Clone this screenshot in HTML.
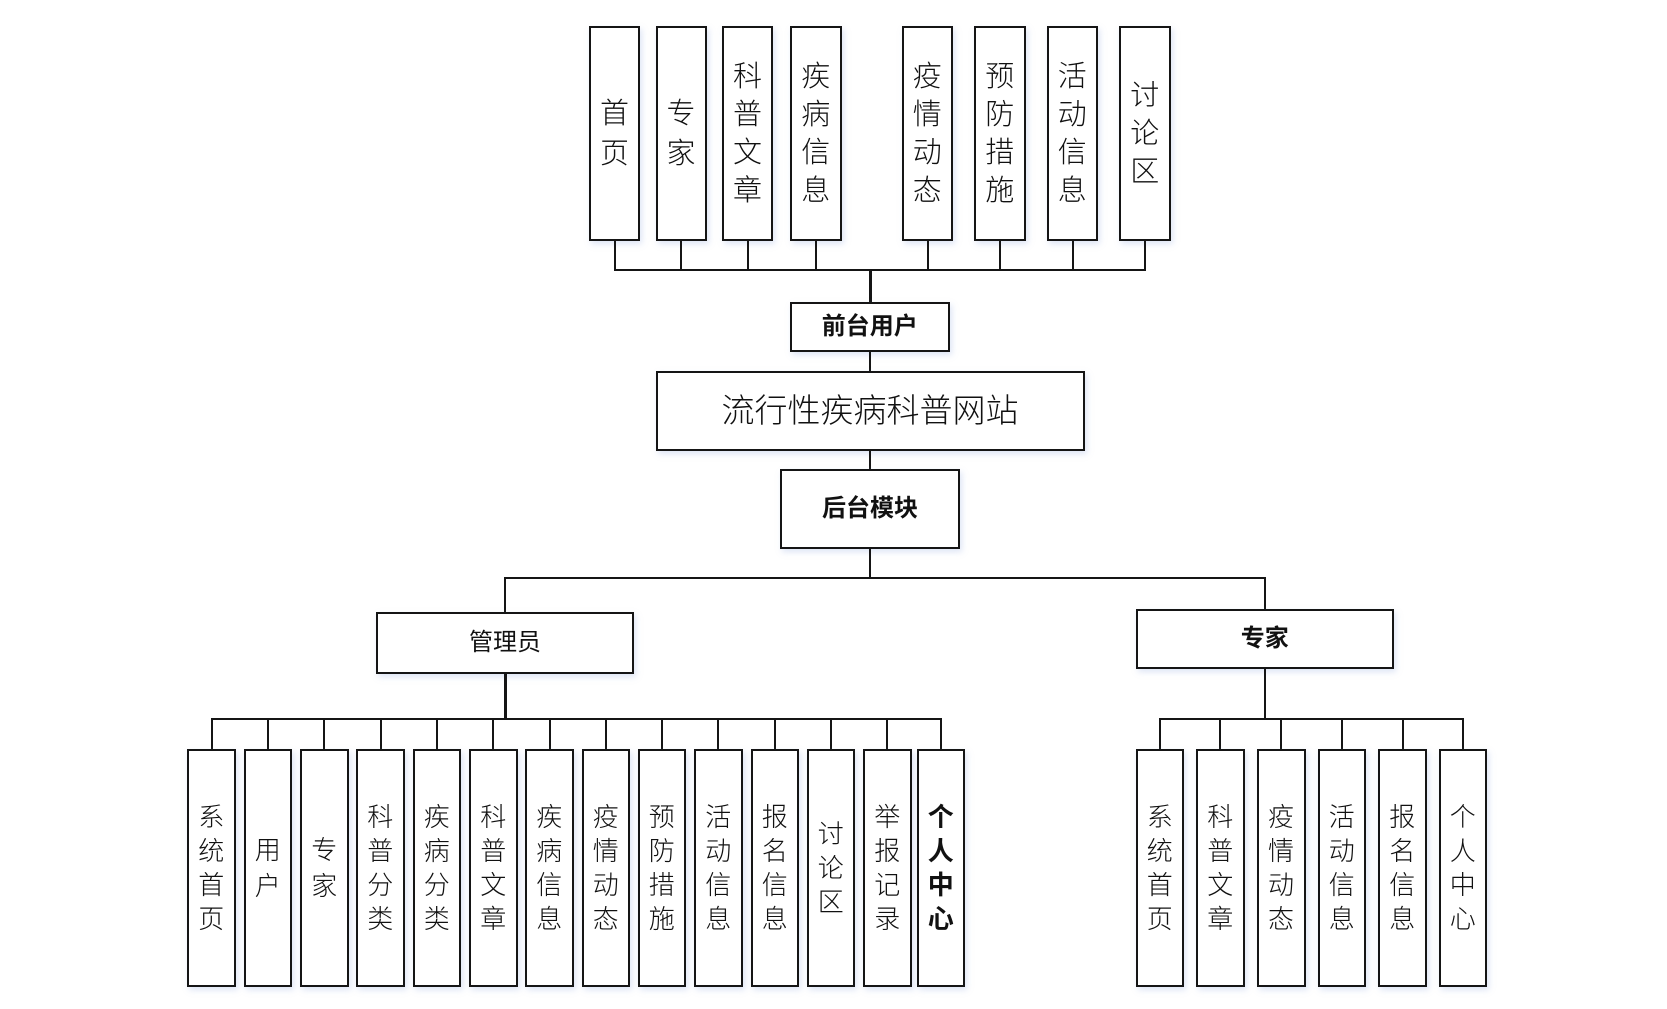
<!DOCTYPE html>
<html><head><meta charset="utf-8">
<style>
html,body{margin:0;padding:0;background:#fff;}
body{width:1667px;height:1009px;position:relative;overflow:hidden;font-family:"Liberation Sans","Noto Sans CJK SC",sans-serif;color:#111;}
.b{position:absolute;box-sizing:border-box;border:2px solid #151515;background:#fff;display:flex;align-items:center;justify-content:center;text-align:center;box-shadow:2px 3px 6px rgba(160,180,225,0.35);}
.l{position:absolute;background:#151515;}
.t{font-size:29px;font-weight:300;line-height:38px;}
.t2{font-size:29px;font-weight:300;line-height:40px;}
.s{font-size:26px;font-weight:300;line-height:34px;}
.s2{font-size:26px;font-weight:300;line-height:36.5px;}
.bold{font-weight:700;}
</style></head><body>

<!-- top boxes -->
<div class="b" style="left:589px;top:26px;width:51px;height:215px;"><div class="t2">首<br>页</div></div>
<div class="b" style="left:655.5px;top:26px;width:51px;height:215px;"><div class="t2">专<br>家</div></div>
<div class="b" style="left:722px;top:26px;width:51px;height:215px;"><div class="t">科<br>普<br>文<br>章</div></div>
<div class="b" style="left:790px;top:26px;width:51.5px;height:215px;"><div class="t">疾<br>病<br>信<br>息</div></div>
<div class="b" style="left:901.5px;top:26px;width:51.5px;height:215px;"><div class="t">疫<br>情<br>动<br>态</div></div>
<div class="b" style="left:974px;top:26px;width:51.5px;height:215px;"><div class="t">预<br>防<br>措<br>施</div></div>
<div class="b" style="left:1046.5px;top:26px;width:51.5px;height:215px;"><div class="t">活<br>动<br>信<br>息</div></div>
<div class="b" style="left:1119px;top:26px;width:51.5px;height:215px;"><div class="t">讨<br>论<br>区</div></div>

<!-- top stems -->
<div class="l" style="left:613.5px;top:241px;width:2px;height:30px;"></div>
<div class="l" style="left:680px;top:241px;width:2px;height:30px;"></div>
<div class="l" style="left:746.5px;top:241px;width:2px;height:30px;"></div>
<div class="l" style="left:815px;top:241px;width:2px;height:30px;"></div>
<div class="l" style="left:926.5px;top:241px;width:2px;height:30px;"></div>
<div class="l" style="left:999px;top:241px;width:2px;height:30px;"></div>
<div class="l" style="left:1071.5px;top:241px;width:2px;height:30px;"></div>
<div class="l" style="left:1144px;top:241px;width:2px;height:30px;"></div>
<!-- top bus -->
<div class="l" style="left:613.5px;top:269px;width:532.5px;height:2px;"></div>
<!-- trunk -->
<div class="l" style="left:869px;top:269px;width:2.5px;height:33px;"></div>

<!-- 前台用户 -->
<div class="b" style="left:790px;top:301.5px;width:159.5px;height:50.5px;"><div style="font-size:24px;font-weight:700;line-height:30px;">前台用户</div></div>
<div class="l" style="left:869px;top:352px;width:2px;height:19px;"></div>

<!-- main -->
<div class="b" style="left:655.5px;top:370.5px;width:429px;height:80px;"><div style="font-size:33px;font-weight:300;line-height:40px;">流行性疾病科普网站</div></div>
<div class="l" style="left:869px;top:450px;width:2px;height:20px;"></div>

<!-- 后台模块 -->
<div class="b" style="left:780px;top:469px;width:180px;height:80px;"><div style="font-size:24px;font-weight:700;line-height:30px;">后台模块</div></div>
<div class="l" style="left:869px;top:548.5px;width:2px;height:30px;"></div>

<!-- mid bus -->
<div class="l" style="left:504px;top:576.5px;width:761.5px;height:2px;"></div>
<div class="l" style="left:504px;top:576.5px;width:2px;height:36px;"></div>
<div class="l" style="left:1263.5px;top:576.5px;width:2px;height:32px;"></div>

<!-- 管理员 -->
<div class="b" style="left:376px;top:612px;width:258px;height:61.5px;"><div style="font-size:24px;font-weight:400;line-height:30px;">管理员</div></div>
<div class="l" style="left:504px;top:673px;width:3px;height:47px;"></div>

<!-- 专家 -->
<div class="b" style="left:1135.5px;top:608.5px;width:258.5px;height:60.5px;"><div style="font-size:24px;font-weight:700;line-height:30px;">专家</div></div>
<div class="l" style="left:1263.5px;top:668.5px;width:2px;height:51px;"></div>

<!-- left bus -->
<div class="l" style="left:210.5px;top:718px;width:731px;height:2px;"></div>
<!-- left stems -->
<div class="l" style="left:210.5px;top:718px;width:2px;height:31px;"></div>
<div class="l" style="left:267px;top:718px;width:2px;height:31px;"></div>
<div class="l" style="left:323px;top:718px;width:2px;height:31px;"></div>
<div class="l" style="left:379.5px;top:718px;width:2px;height:31px;"></div>
<div class="l" style="left:436px;top:718px;width:2px;height:31px;"></div>
<div class="l" style="left:492px;top:718px;width:2px;height:31px;"></div>
<div class="l" style="left:548.5px;top:718px;width:2px;height:31px;"></div>
<div class="l" style="left:604.5px;top:718px;width:2px;height:31px;"></div>
<div class="l" style="left:661px;top:718px;width:2px;height:31px;"></div>
<div class="l" style="left:717px;top:718px;width:2px;height:31px;"></div>
<div class="l" style="left:773.5px;top:718px;width:2px;height:31px;"></div>
<div class="l" style="left:830px;top:718px;width:2px;height:31px;"></div>
<div class="l" style="left:886px;top:718px;width:2px;height:31px;"></div>
<div class="l" style="left:939.5px;top:718px;width:2px;height:31px;"></div>

<!-- left boxes -->
<div class="b" style="left:187px;top:749px;width:48.5px;height:238px;"><div class="s">系<br>统<br>首<br>页</div></div>
<div class="b" style="left:243.5px;top:749px;width:48.5px;height:238px;"><div class="s2">用<br>户</div></div>
<div class="b" style="left:300px;top:749px;width:48.5px;height:238px;"><div class="s2">专<br>家</div></div>
<div class="b" style="left:356px;top:749px;width:48.5px;height:238px;"><div class="s">科<br>普<br>分<br>类</div></div>
<div class="b" style="left:412.5px;top:749px;width:48.5px;height:238px;"><div class="s">疾<br>病<br>分<br>类</div></div>
<div class="b" style="left:469px;top:749px;width:48.5px;height:238px;"><div class="s">科<br>普<br>文<br>章</div></div>
<div class="b" style="left:525px;top:749px;width:48.5px;height:238px;"><div class="s">疾<br>病<br>信<br>息</div></div>
<div class="b" style="left:581.5px;top:749px;width:48.5px;height:238px;"><div class="s">疫<br>情<br>动<br>态</div></div>
<div class="b" style="left:637.5px;top:749px;width:48.5px;height:238px;"><div class="s">预<br>防<br>措<br>施</div></div>
<div class="b" style="left:694px;top:749px;width:48.5px;height:238px;"><div class="s">活<br>动<br>信<br>息</div></div>
<div class="b" style="left:750.5px;top:749px;width:48.5px;height:238px;"><div class="s">报<br>名<br>信<br>息</div></div>
<div class="b" style="left:806.5px;top:749px;width:48.5px;height:238px;"><div class="s">讨<br>论<br>区</div></div>
<div class="b" style="left:863px;top:749px;width:48.5px;height:238px;"><div class="s">举<br>报<br>记<br>录</div></div>
<div class="b" style="left:916.5px;top:749px;width:48.5px;height:238px;"><div class="s bold">个<br>人<br>中<br>心</div></div>

<!-- right bus -->
<div class="l" style="left:1158.5px;top:718px;width:305.5px;height:2px;"></div>
<div class="l" style="left:1158.5px;top:718px;width:2px;height:31px;"></div>
<div class="l" style="left:1219px;top:718px;width:2px;height:31px;"></div>
<div class="l" style="left:1280px;top:718px;width:2px;height:31px;"></div>
<div class="l" style="left:1341px;top:718px;width:2px;height:31px;"></div>
<div class="l" style="left:1401.5px;top:718px;width:2px;height:31px;"></div>
<div class="l" style="left:1462px;top:718px;width:2px;height:31px;"></div>

<!-- right boxes -->
<div class="b" style="left:1135.5px;top:749px;width:48.5px;height:238px;"><div class="s">系<br>统<br>首<br>页</div></div>
<div class="b" style="left:1196px;top:749px;width:48.5px;height:238px;"><div class="s">科<br>普<br>文<br>章</div></div>
<div class="b" style="left:1256.5px;top:749px;width:49px;height:238px;"><div class="s">疫<br>情<br>动<br>态</div></div>
<div class="b" style="left:1317.5px;top:749px;width:48.5px;height:238px;"><div class="s">活<br>动<br>信<br>息</div></div>
<div class="b" style="left:1378px;top:749px;width:48.5px;height:238px;"><div class="s">报<br>名<br>信<br>息</div></div>
<div class="b" style="left:1438.5px;top:749px;width:48.5px;height:238px;"><div class="s">个<br>人<br>中<br>心</div></div>

</body></html>
